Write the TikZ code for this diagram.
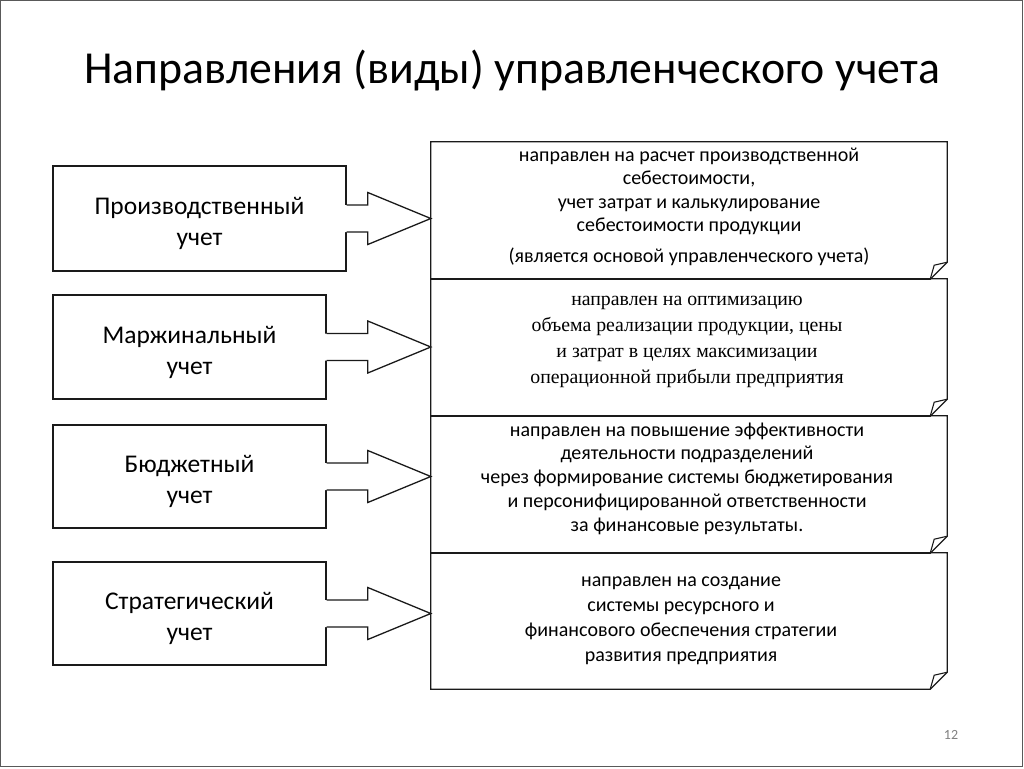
\documentclass[tikz,border=0pt]{standalone}
\usepackage{fontspec}
\setmainfont{Carlito}
\newfontfamily\timesfont{Liberation Serif}
\usetikzlibrary{calc}
\definecolor{ln}{HTML}{1A1A1A}
\newcommand\lstrut{\rule{0pt}{27.5pt}}
\tikzset{
  lbox/.style={draw=ln, line width=1.3pt, align=center, font=\fontsize{25.5}{31}\selectfont, inner sep=0pt},
  rbox/.style={draw=none, inner sep=0pt, minimum width=516pt},
  rtext/.style={align=center, inner sep=0pt, text=black},
  outline/.style={draw=ln, line width=1.3pt, line join=miter},
}
\newcommand\blockarrow[2]{%
  \coordinate (s) at (#1.east);
  \coordinate (t) at (#2.west |- #1.east);
  \fill[white] ($(s)+(-2.5,-13.5)$) -- ($(t)+(-63,-13.5)$) -- ($(t)+(-63,-26)$) -- (t) -- ($(t)+(-63,26)$) -- ($(t)+(-63,13.5)$) -- ($(s)+(-2.5,13.5)$) -- cycle;
  \draw[outline] ($(s)+(0,-13.5)$) -- ($(t)+(-63,-13.5)$) -- ($(t)+(-63,-26)$) -- (t) -- ($(t)+(-63,26)$) -- ($(t)+(-63,13.5)$) -- ($(s)+(0,13.5)$);
}
\newcommand\curlbox[1]{%
  \draw[outline] (#1.south west) -- (#1.north west) -- (#1.north east) -- ($(#1.south east)+(0,-17)$) -- ($(#1.south east)+(-17,0)$) -- cycle;
  \draw[outline, line width=1.1pt] ($(#1.south east)+(-17,0)$) -- ($(#1.south east)+(-13,-14)$) -- ($(#1.south east)+(0,-17)$);
}
\begin{document}
\begin{tikzpicture}[x=1pt, y=-1pt]
\useasboundingbox (0,0) rectangle (1024,768);
\draw[gray!70!black, line width=1pt] (0.5,0.5) rectangle (1022.5,766.5);

\node[font=\fontsize{45.8}{52}\selectfont] (title) at (512,71) {Направления (виды) управленческого учета};

% right boxes
\node[rbox, minimum height=137pt] (r1) at (689,210.5) {};
\node[rbox, minimum height=137pt] (r2) at (689,347.5) {};
\node[rbox, minimum height=137pt] (r3) at (689,484.5) {};
\node[rbox, minimum height=136pt] (r4) at (689,621) {};
\curlbox{r1}
\curlbox{r2}
\curlbox{r3}
\curlbox{r4}

\node[rtext, font=\fontsize{20}{23.5}\selectfont] (t1) at (689,207) {направлен на расчет производственной\\ себестоимости,\\ учет затрат и калькулирование\\ себестоимости продукции\\[7.5pt] (является основой управленческого учета)};
\node[rtext, font=\timesfont\fontsize{19.8}{26}\selectfont] (t2) at (687,341.5) {направлен на оптимизацию\\ объема реализации продукции, цены\\ и затрат в целях максимизации\\ операционной прибыли предприятия};
\node[rtext, font=\fontsize{20}{23.75}\selectfont] (t3) at (687,478.5) {направлен на повышение эффективности\\ деятельности подразделений\\ через формирование системы бюджетирования\\ и персонифицированной ответственности\\ за финансовые результаты.};
\node[rtext, font=\fontsize{20}{25}\selectfont] (t4) at (681,620.5) {направлен на создание\\ системы ресурсного и\\ финансового обеспечения стратегии\\ развития предприятия};

% left boxes
\node[lbox, minimum width=293pt, minimum height=105pt] (l1) at (199.5,218.5) {\lstrut Производственный\\ учет};
\node[lbox, minimum width=273pt, minimum height=104pt] (l2) at (189.5,347) {\lstrut Маржинальный\\ учет};
\node[lbox, minimum width=273pt, minimum height=103pt] (l3) at (189.5,476.5) {\lstrut Бюджетный\\ учет};
\node[lbox, minimum width=273pt, minimum height=103pt] (l4) at (189.5,613.5) {\lstrut Стратегический\\ учет};

\blockarrow{l1}{r1}
\blockarrow{l2}{r2}
\blockarrow{l3}{r3}
\blockarrow{l4}{r4}

\node[text=gray, font=\fontsize{14}{16}\selectfont] (pg) at (951,735) {12};
\end{tikzpicture}
\end{document}
